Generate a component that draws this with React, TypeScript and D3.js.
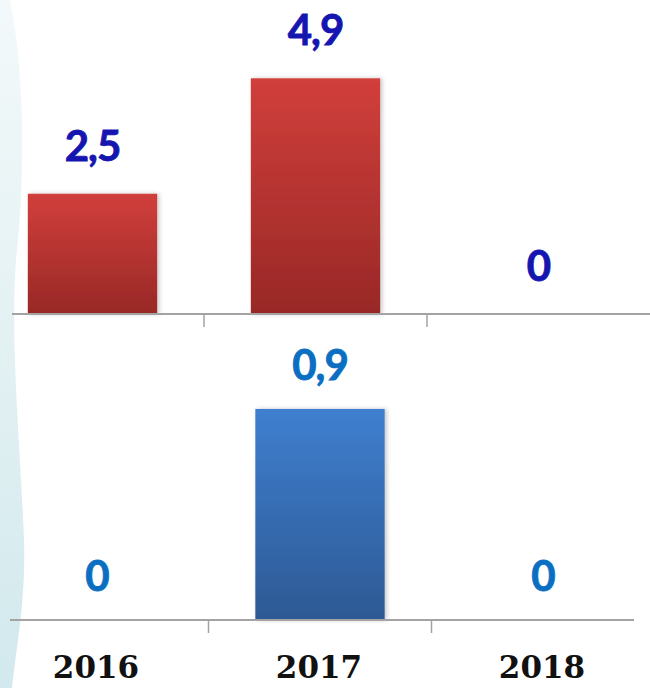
import React from "react";
import { scaleBand, scaleLinear } from "d3";

// years on the shared x axis
const years = ["2016", "2017", "2018"];
// upper panel (red bars)
const topValues = [2.5, 4.9, 0];
const topLabels = ["2,5", "4,9", "0"];
// lower panel (blue bars)
const bottomValues = [0, 0.9, 0];
const bottomLabels = ["0", "0,9", "0"];

const width = 650;
const height = 688;

const topAxisY = 314;
const bottomAxisY = 620;

const valueFont = "Lato, 'Open Sans', sans-serif";
const yearFont = "'DejaVu Serif', 'Liberation Serif', serif";

const makeX = (x0: number, x1: number) =>
  scaleBand<string>()
    .domain(years)
    .range([x0, x1])
    .paddingInner(0.42)
    .paddingOuter(0.21);

const Panel = ({
  values,
  labels,
  x,
  y,
  axisY,
  axisStart,
  axisEnd,
  fill,
  labelColor,
  labelGap,
}: {
  values: number[];
  labels: string[];
  x: any;
  y: any;
  axisY: number;
  axisStart: number;
  axisEnd: number;
  fill: string;
  labelColor: string;
  labelGap: number;
}) => {
  const step = x.step();
  const bw = x.bandwidth();
  return (
    <g>
      {values.map((v, i) =>
        v > 0 ? (
          <rect
            key={"b" + i}
            x={x(years[i])}
            y={y(v)}
            width={bw}
            height={y(0) - y(v)}
            fill={fill}
            filter="url(#shadow)"
          />
        ) : null
      )}
      <line
        x1={axisStart}
        x2={axisEnd}
        y1={axisY}
        y2={axisY}
        stroke="#a3a3a3"
        strokeWidth={2}
      />
      {years.slice(1).map((yr) => {
        const tx = x(yr) - (step - bw) / 2;
        return (
          <line
            key={"t" + yr}
            x1={tx}
            x2={tx}
            y1={axisY}
            y2={axisY + 13}
            stroke="#a3a3a3"
            strokeWidth={1.5}
          />
        );
      })}
      {values.map((v, i) => (
        <text
          key={"l" + i}
          x={x(years[i]) + bw / 2}
          y={y(v) - labelGap}
          textAnchor="middle"
          fontFamily={valueFont}
          fontWeight="bold"
          fontSize={42}
          letterSpacing={-1}
          fill={labelColor}
          stroke={labelColor}
          strokeWidth={0.8}
        >
          {labels[i]}
        </text>
      ))}
    </g>
  );
};

const App = () => {
  const xTop = makeX(-19, 650);
  const xBottom = makeX(-14.5, 654.5);

  const yTop = scaleLinear().domain([0, 6.5]).range([topAxisY, topAxisY - 6.5 * 48.1]);
  const yBottom = scaleLinear().domain([0, 1.2]).range([bottomAxisY, bottomAxisY - 1.2 * 234.5]);

  return (
    <svg
      width={width}
      height={height}
      style={{ position: "absolute", left: 0, top: 0, display: "block", background: "#ffffff" }}
    >
      <defs>
        <linearGradient id="redGrad" x1="0" y1="0" x2="0" y2="1">
          <stop offset="0%" stopColor="#d13f3b" />
          <stop offset="100%" stopColor="#982826" />
        </linearGradient>
        <linearGradient id="blueGrad" x1="0" y1="0" x2="0" y2="1">
          <stop offset="0%" stopColor="#3f7fcf" />
          <stop offset="100%" stopColor="#2d5994" />
        </linearGradient>
        <linearGradient id="edgeGrad" x1="0" y1="0" x2="0" y2="1">
          <stop offset="0%" stopColor="#f3f9fa" />
          <stop offset="50%" stopColor="#e3f1f3" />
          <stop offset="100%" stopColor="#d2e9ed" />
        </linearGradient>
        <filter id="shadow" x="-10%" y="-10%" width="130%" height="120%">
          <feDropShadow dx={2} dy={0} stdDeviation={2} floodColor="#000" floodOpacity={0.22} />
        </filter>
      </defs>

      {/* pale decoration on the left edge */}
      <path
        d="M0,0 L10,0 C24,70 26,170 16,260 C10,340 20,440 24,540 C26,600 16,650 12,688 L0,688 Z"
        fill="url(#edgeGrad)"
      />

      <Panel
        values={topValues}
        labels={topLabels}
        x={xTop}
        y={yTop}
        axisY={topAxisY}
        axisStart={12}
        axisEnd={650}
        fill="url(#redGrad)"
        labelColor="#1515b0"
        labelGap={33}
      />
      <Panel
        values={bottomValues}
        labels={bottomLabels}
        x={xBottom}
        y={yBottom}
        axisY={bottomAxisY}
        axisStart={10}
        axisEnd={634}
        fill="url(#blueGrad)"
        labelColor="#0a6fc2"
        labelGap={29}
      />

      {years.map((yr) => (
        <text
          key={"y" + yr}
          x={(xBottom(yr) as number) + xBottom.bandwidth() / 2 - 1}
          y={678}
          textAnchor="middle"
          fontFamily={yearFont}
          fontWeight="bold"
          fontSize={31}
          fill="#111111"
        >
          {yr}
        </text>
      ))}
    </svg>
  );
};

export default App;
